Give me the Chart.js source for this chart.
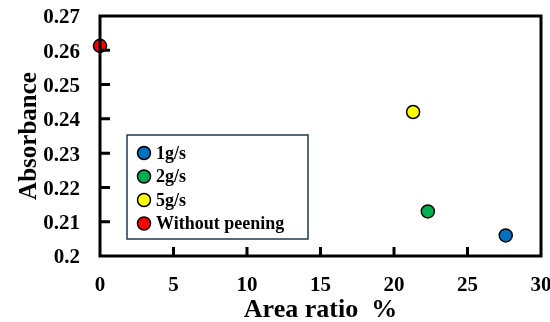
<!DOCTYPE html>
<html>
<head>
<meta charset="utf-8">
<script src="https://cdn.jsdelivr.net/npm/chart.js@4"></script>
<style>
    html, body { margin: 0; padding: 0; background: #fff; }
    #wrap { width: 550px; height: 322px; }
</style>
</head>
<body>
<div id="wrap"><canvas id="graph" width="550" height="322"></canvas></div>
<script>
const seriesNames = ['1g/s', '2g/s', '5g/s', 'Without peening'];
const areaRatio = [27.6, 22.3, 21.3, 0];
const absorbance = [0.206, 0.213, 0.242, 0.2613];
const markerColors = ['#0070c0', '#00b050', '#ffff00', '#ff0000'];
const xTicks = [0, 5, 10, 15, 20, 25, 30];
const yTicks = [0.2, 0.21, 0.22, 0.23, 0.24, 0.25, 0.26, 0.27];

Chart.defaults.font.family = "'Liberation Serif', 'Times New Roman', serif";
Chart.defaults.font.weight = 'bold';
Chart.defaults.color = '#000';

// frame + inward tick marks
const frame = {
    id: 'frame',
    afterDatasetsDraw(chart) {
        const ctx = chart.ctx;
        const a = chart.chartArea;
        const xs = chart.scales.x, ys = chart.scales.y;
        ctx.save();
        ctx.strokeStyle = '#000';
        ctx.lineWidth = 3;
        ctx.strokeRect(a.left, a.top, a.right - a.left, a.bottom - a.top);
        ctx.beginPath();
        xTicks.slice(1, -1).forEach(v => {
            const px = xs.getPixelForValue(v);
            ctx.moveTo(px, a.bottom);
            ctx.lineTo(px, a.bottom - 9);
        });
        yTicks.slice(1, -1).forEach(v => {
            const py = ys.getPixelForValue(v);
            ctx.moveTo(a.left, py);
            ctx.lineTo(a.left + 10, py);
        });
        ctx.stroke();
        ctx.restore();
    }
};

// legend box inside the plot
const boxLegend = {
    id: 'boxLegend',
    afterDraw(chart) {
        const ctx = chart.ctx;
        const x0 = 127, y0 = 135, w = 181, h = 104;
        ctx.save();
        ctx.fillStyle = '#fff';
        ctx.fillRect(x0, y0, w, h);
        ctx.strokeStyle = '#1f3a4d';
        ctx.lineWidth = 1.5;
        ctx.strokeRect(x0, y0, w, h);
        ctx.font = "bold 18px 'Liberation Serif'";
        ctx.textBaseline = 'middle';
        chart.data.datasets.forEach((ds, i) => {
            const cy = y0 + 18 + i * 23.5;
            ctx.beginPath();
            ctx.arc(x0 + 17, cy, 6.5, 0, Math.PI * 2);
            ctx.fillStyle = ds.backgroundColor;
            ctx.fill();
            ctx.lineWidth = 1.5;
            ctx.strokeStyle = '#000';
            ctx.stroke();
            ctx.fillStyle = '#000';
            ctx.fillText(ds.label, x0 + 29, cy + 1);
        });
        ctx.restore();
    }
};

new Chart(document.getElementById('graph').getContext('2d'), {
    type: 'scatter',
    data: {
        datasets: seriesNames.map((name, i) => ({
            label: name,
            data: [{ x: areaRatio[i], y: absorbance[i] }],
            backgroundColor: markerColors[i],
            borderColor: '#000',
            borderWidth: 1.5,
            pointRadius: 6.5,
            clip: false
        }))
    },
    options: {
        responsive: false,
        animation: false,
        layout: { padding: { top: 16, right: 9, left: 0, bottom: 0 } },
        plugins: { legend: { display: false }, tooltip: { enabled: false } },
        scales: {
            x: {
                min: 0, max: 30,
                afterBuildTicks: s => { s.ticks = xTicks.map(v => ({ value: v })); },
                afterFit: s => { s.height = 66; s.paddingLeft = 0; s.paddingRight = 0; },
                grid: { display: false },
                border: { display: false },
                ticks: { padding: 9, font: { size: 21 } },
                title: { display: true, text: 'Area ratio  %', font: { size: 26, lineHeight: 0.9 }, padding: 0 }
            },
            y: {
                min: 0.2, max: 0.27,
                afterBuildTicks: s => { s.ticks = yTicks.map(v => ({ value: v })); },
                afterFit: s => { s.width = 100; s.paddingTop = 0; s.paddingBottom = 0; },
                grid: { display: false },
                border: { display: false },
                ticks: {
                    padding: 12,
                    labelOffset: 2,
                    font: { size: 21 },
                    callback: v => String(parseFloat(Number(v).toFixed(2)))
                },
                title: { display: true, text: 'Absorbance', font: { size: 25 }, padding: { top: 15 } }
            }
        }
    },
    plugins: [frame, boxLegend]
});
</script>
</body>
</html>
